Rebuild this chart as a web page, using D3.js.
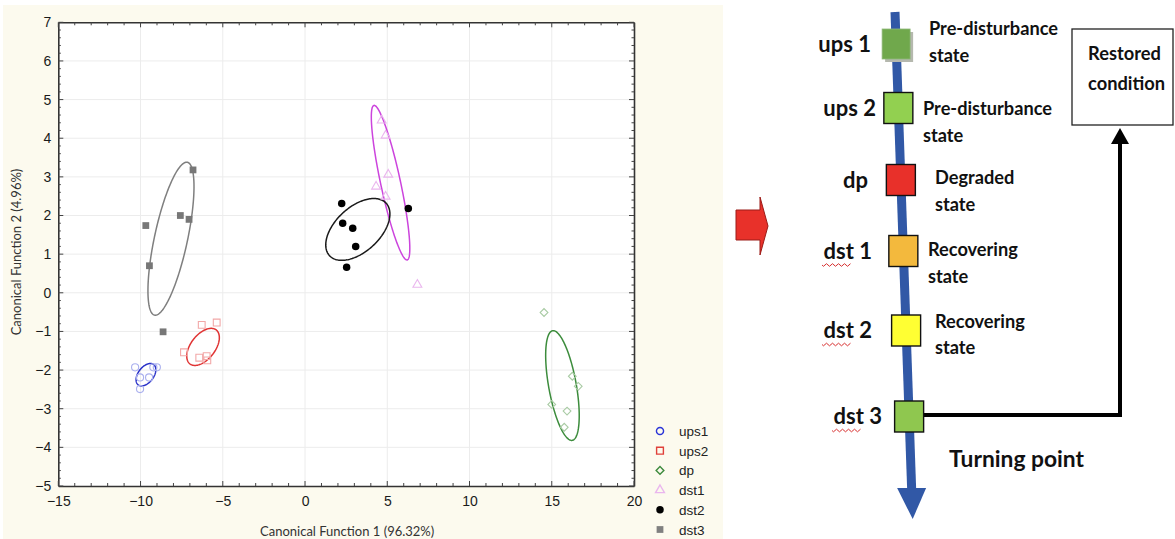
<!DOCTYPE html>
<html><head><meta charset="utf-8">
<script src="https://cdn.jsdelivr.net/npm/d3@7"></script>
<style>
html,body{margin:0;padding:0;background:#fff;}
svg{display:block;}
</style></head>
<body>
<svg id="c" width="1175" height="539"></svg>
<script>
// ---------- DATA ----------
const seriesNames = ["ups1","ups2","dp","dst1","dst2","dst3"];
const ups1 = [[-10.33,-1.93],[-10.03,-2.19],[-9.48,-2.19],[-9.22,-1.93],[-9.01,-1.93],[-10.03,-2.49]];
const ups2 = [[-6.28,-0.83],[-5.37,-0.77],[-7.36,-1.54],[-6.43,-1.68],[-5.98,-1.64],[-5.94,-1.75]];
const dp   = [[14.53,-0.51],[16.25,-2.16],[16.61,-2.42],[15.0,-2.89],[15.93,-3.06],[15.76,-3.48]];
const dst1 = [[4.66,4.46],[4.90,4.07],[5.06,3.06],[4.32,2.75],[4.90,2.49],[6.83,0.21]];
const dst2 = [[2.23,2.31],[2.29,1.80],[2.90,1.67],[3.08,1.20],[2.53,0.66],[6.28,2.18]];
const dst3 = [[-9.68,1.74],[-9.46,0.70],[-7.58,2.00],[-7.05,1.90],[-6.81,3.18],[-8.63,-1.01]];
// confidence ellipses: centre, half-ranges, correlation
const ellipseCX = [-9.67,-6.20,15.65,5.20,3.21,-8.15];
const ellipseCY = [-2.12,-1.40,-2.40,2.85,1.64,1.40];
const ellipseRX = [0.60,0.99,1.02,1.17,1.95,1.40];
const ellipseRY = [0.29,0.48,1.42,2.00,0.80,1.98];
const ellipseR  = [0.45,0.50,-0.55,-0.85,0.50,0.68];
const xTicks = [-15,-10,-5,0,5,10,15,20];
const yTicks = [-5,-4,-3,-2,-1,0,1,2,3,4,5,6,7];
const xTitle = "Canonical Function 1 (96.32%)";
const yTitle = "Canonical Function 2 (4.96%)";

// diagram content
const stageLabels = ["ups 1","ups 2","dp","dst 1","dst 2","dst 3"];
const stageText = [["Pre-disturbance","state"],["Pre-disturbance","state"],["Degraded","state"],["Recovering","state"],["Recovering","state"],[]];
const stageFill = ["#70a84c","#92d050","#e8302a","#f3b93d","#ffff33","#8fc74f"];
const restoredText = ["Restored","condition"];
const turningText = "Turning point";

// ---------- STYLE ----------
const ptStroke = {ups1:"#aab0ee",ups2:"#f2a8a8",dp:"#a9cba4",dst1:"#eab6ee",dst2:"#000",dst3:"#777"};
const legColor = {ups1:"#2b35d8",ups2:"#e0403a",dp:"#3d8a3d",dst1:"#eab6ee",dst2:"#000",dst3:"#808080"};
const ellColor = ["#2830c8","#e03434","#3c8c3c","#cc44dd","#1a1a1a","#7f7f7f"];
const filled = {ups1:false,ups2:false,dp:false,dst1:false,dst2:true,dst3:true};

const svg = d3.select("#c");
svg.append("rect").attr("x",3).attr("y",5).attr("width",720).attr("height",534).attr("fill","#fcfaee");

const X0=58.3, X1=634, Y0=22.3, Y1=486;
const xS = d3.scaleLinear().domain([-15,20]).range([X0,X1]);
const yS = d3.scaleLinear().domain([-5,7]).range([Y1,Y0]);

svg.append("rect").attr("x",X0).attr("y",Y0).attr("width",X1-X0).attr("height",Y1-Y0).attr("fill","#fff");

// grid
const gridG = svg.append("g");
gridG.selectAll(".gx").data(xTicks.slice(1,-1)).enter().append("line")
 .attr("x1",d=>xS(d)).attr("x2",d=>xS(d)).attr("y1",Y0).attr("y2",Y1).attr("stroke","#ececec").attr("stroke-width",1);
gridG.selectAll(".gy").data(yTicks.slice(1,-1)).enter().append("line")
 .attr("y1",d=>yS(d)).attr("y2",d=>yS(d)).attr("x1",X0).attr("x2",X1).attr("stroke","#ececec").attr("stroke-width",1);

// axes
const xMinor = d3.range(-15,20.01,1);
const yMinor = d3.range(-5,7.001,0.2);
const axCol="#333";
const axB = svg.append("g").attr("transform",`translate(0,${Y1})`)
 .call(d3.axisBottom(xS).tickValues(xTicks).tickSize(0).tickPadding(10).tickFormat(d3.format("d")));
const axT = svg.append("g").attr("transform",`translate(0,${Y0})`)
 .call(d3.axisTop(xS).tickValues(xTicks).tickSize(0).tickFormat(""));
const axL = svg.append("g").attr("transform",`translate(${X0},0)`)
 .call(d3.axisLeft(yS).tickValues(yTicks).tickSize(0).tickPadding(7).tickFormat(d3.format("d")));
const axR = svg.append("g").attr("transform",`translate(${X1},0)`)
 .call(d3.axisRight(yS).tickValues(yTicks).tickSize(0).tickFormat(""));
[axB,axT,axL,axR].forEach(a=>{
  a.select(".domain").attr("stroke",axCol).attr("stroke-width",1.6);
  a.selectAll("text").attr("font-family","Liberation Sans, Arial, sans-serif").attr("font-size",14).attr("fill","#1a1a1a");
});
const tk = svg.append("g").attr("stroke","#444").attr("stroke-width",1);
xMinor.forEach(v=>{
  const L = (Math.round(v)%5===0)?5:3;
  tk.append("line").attr("x1",xS(v)).attr("x2",xS(v)).attr("y1",Y1).attr("y2",Y1-L);
  tk.append("line").attr("x1",xS(v)).attr("x2",xS(v)).attr("y1",Y0).attr("y2",Y0+L);
});
yMinor.forEach(v=>{
  const L = (Math.abs(v-Math.round(v))<1e-6)?5:2.5;
  tk.append("line").attr("y1",yS(v)).attr("y2",yS(v)).attr("x1",X0).attr("x2",X0+L);
  tk.append("line").attr("y1",yS(v)).attr("y2",yS(v)).attr("x1",X1).attr("x2",X1-L);
});

// axis titles
svg.append("text").attr("x",(X0+X1)/2+1).attr("y",536).attr("text-anchor","middle")
 .attr("font-family","Lato, sans-serif").attr("font-size",13).attr("fill","#333").text(xTitle);
svg.append("text").attr("transform","translate(21,252) rotate(-90)").attr("text-anchor","middle")
 .attr("font-family","Lato, sans-serif").attr("font-size",13).attr("fill","#333").text(yTitle);

// ellipses
const eLine = d3.line().x(d=>xS(d[0])).y(d=>yS(d[1])).curve(d3.curveLinearClosed);
ellipseCX.forEach((cx,i)=>{
  const phi = Math.acos(ellipseR[i]);
  const pts = d3.range(0,2*Math.PI,Math.PI/90).map(t=>[cx+ellipseRX[i]*Math.cos(t), ellipseCY[i]+ellipseRY[i]*Math.cos(t+phi)]);
  svg.append("path").attr("d",eLine(pts)).attr("fill","none").attr("stroke",ellColor[i]).attr("stroke-width",1.5);
});

// markers
function symPath(name){
  if(name==="ups1"||name==="dst2") return d3.symbol(d3.symbolCircle, name==="dst2"?44:40)();
  if(name==="ups2"||name==="dst3") return d3.symbol(d3.symbolSquare, 46)();
  if(name==="dp") return d3.symbol(d3.symbolSquare, 30)();
  return d3.symbol(d3.symbolTriangle, 34)();
}
function rot(name){ return name==="dp" ? " rotate(45)" : ""; }
const allData = {ups1,ups2,dp,dst1,dst2,dst3};
seriesNames.forEach(n=>{
  svg.append("g").selectAll("path").data(allData[n]).enter().append("path")
   .attr("d",symPath(n))
   .attr("transform",d=>`translate(${xS(d[0])},${yS(d[1])})${rot(n)}`)
   .attr("fill",filled[n]?ptStroke[n]:"none")
   .attr("stroke",filled[n]?"none":ptStroke[n]).attr("stroke-width",1.1);
});

// legend
const leg = svg.append("g");
seriesNames.forEach((n,i)=>{
  const yy = 431 + i*19.7;
  leg.append("path").attr("d",symPath(n)).attr("transform",`translate(660,${yy})${rot(n)}`)
   .attr("fill",filled[n]?legColor[n]:"none").attr("stroke",filled[n]?"none":legColor[n]).attr("stroke-width",1.4);
  leg.append("text").attr("x",679).attr("y",yy+5).attr("font-family","Liberation Sans, Arial, sans-serif")
   .attr("font-size",13.5).attr("fill","#222").text(n);
});

// ---------- DIAGRAM ----------
const dg = svg.append("g");
dg.append("path").attr("d","M736,210 L760,210 L760,197 L768,226 L760,255 L760,240 L736,240 Z")
 .attr("fill","#e8312a").attr("stroke","#9b1c18").attr("stroke-width",1);

const lx = yy => 895 + 0.0349*(yy-12);
dg.append("line").attr("x1",lx(12)).attr("y1",12).attr("x2",lx(492)).attr("y2",492)
 .attr("stroke","#3158a6").attr("stroke-width",9);
dg.append("path").attr("d",`M${lx(488)-14.5},488 L${lx(488)+14.5},488 L${lx(519)},519 Z`).attr("fill","#3158a6");

dg.append("path").attr("d","M920,415 L1120,415 L1120,142").attr("fill","none").attr("stroke","#000").attr("stroke-width",4);
dg.append("path").attr("d","M1111,144 L1129,144 L1120,128 Z").attr("fill","#000");

dg.append("rect").attr("x",1072).attr("y",29).attr("width",101).attr("height",96).attr("fill","#fff").attr("stroke","#222").attr("stroke-width",1.3);
restoredText.forEach((t,i)=>dg.append("text").attr("x",1088).attr("y",60+i*30)
  .attr("font-family","Lato, sans-serif").attr("font-weight",700).attr("font-size",18.3).attr("fill","#111").text(t));

const stageY = [44,108,180,251,330.5,416.5];
const labelRight = [871,876,868,872,872,882];
const descLeft = [929,923,935,928,935,0];
const descY = [[29,56],[109,136],[178,205],[250,277],[322,348],[]];
stageLabels.forEach((lab,i)=>{
  const cy = stageY[i], cx = lx(cy);
  if(i===0){
    dg.append("rect").attr("x",cx-14+3).attr("y",cy-15+3).attr("width",28).attr("height",30).attr("fill","#b5b8ae");
    dg.append("rect").attr("x",cx-14).attr("y",cy-15).attr("width",28).attr("height",30).attr("fill",stageFill[i]).attr("stroke","#8fb87a").attr("stroke-width",0.8);
  } else {
    dg.append("rect").attr("x",cx-14.5).attr("y",cy-15.5).attr("width",29).attr("height",31).attr("fill",stageFill[i]).attr("stroke","#111").attr("stroke-width",1.4);
  }
  dg.append("text").attr("x",labelRight[i]).attr("y",cy+7.5).attr("text-anchor","end")
   .attr("font-family","Lato, sans-serif").attr("font-weight",700).attr("font-size",22).attr("fill","#111").text(lab);
  stageText[i].forEach((t,j)=>dg.append("text").attr("x",descLeft[i]).attr("y",descY[i][j]+6)
   .attr("font-family","Lato, sans-serif").attr("font-weight",700).attr("font-size",18.2).attr("fill","#111").text(t));
  if(lab.startsWith("dst")){
    const x0 = labelRight[i]-50, yy = cy+14;
    let d = `M${x0},${yy}`;
    for(let k=0;k<10;k++) d += ` L${x0+1.5+k*3},${yy+(k%2?-1.3:1.3)}`;
    dg.append("path").attr("d",d).attr("fill","none").attr("stroke","#d83030").attr("stroke-width",1);
  }
});
dg.append("text").attr("x",949).attr("y",467).attr("font-family","Lato, sans-serif").attr("font-weight",700)
 .attr("font-size",22.8).attr("fill","#111").text(turningText);
</script>
</body></html>
